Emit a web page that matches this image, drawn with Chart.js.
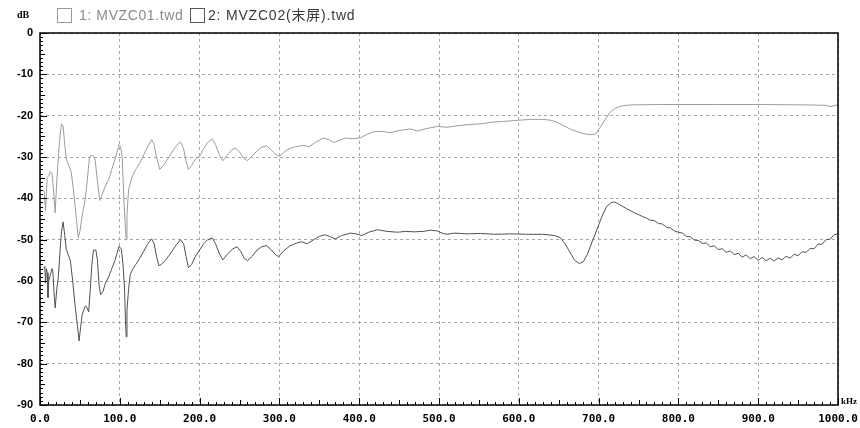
<!DOCTYPE html>
<html>
<head>
<meta charset="utf-8">
<script src="https://cdn.jsdelivr.net/npm/chart.js@4/dist/chart.umd.min.js"></script>
<style>
  html, body { margin: 0; padding: 0; background: #fff; }
  #wrap { position: relative; width: 860px; height: 428px; }
  .lbl { position: absolute; white-space: nowrap; line-height: 16px; }
  .box { position: absolute; width: 13px; height: 13px; background: #fff; }
</style>
</head>
<body>
<div id="wrap">
  <canvas id="c" width="860" height="428"></canvas>
  <div class="lbl" style="left:17px;top:9px;font:bold 10px 'Liberation Serif';line-height:12px;color:#000;">dB</div>
  <div class="box" style="left:57px;top:8px;border:1px solid #9a9a9a;"></div>
  <div class="lbl" style="left:79px;top:7px;font:14px 'Liberation Sans';line-height:16px;letter-spacing:0.6px;color:#8a8a8a;">1: MVZC01.twd</div>
  <div class="box" style="left:190px;top:8px;border:1px solid #555;"></div>
  <div class="lbl" style="left:208px;top:7px;font:14px 'Liberation Sans','Noto Sans CJK SC';line-height:16px;letter-spacing:0.8px;color:#3a3a3a;">2: MVZC02(末屏).twd</div>
  <div class="lbl" style="left:841px;top:396px;font:bold 9px 'Liberation Serif';line-height:10px;color:#000;">kHz</div>
</div>
<script>
// series 1: MVZC01.twd (light trace)
const freq1 = [5,7,9,11,13,15,17,19,21,23,25,27,29,31,33,36,39,42,45,48,50,53,56,58,60,62,64,67,69,72,75,78,82,86,90,94,97,99,101,103,105,107,108,109,111,115,120,125,130,135,140,143,146,150,155,160,165,170,176,180,183,186,190,195,201,205,210,216,220,225,229,235,240,245,250,255,260,266,272,278,284,290,295,300,305,312,320,330,337,345,355,362,368,375,383,392,402,410,418,428,439,450,464,473,485,498,510,525,540,552,565,580,600,615,630,640,648,656,665,675,685,693,697,702,708,714,720,728,740,780,850,900,960,985,990,995,1000];
const db1 = [-38,-43,-35,-34.5,-33.5,-34,-38,-43.5,-36,-30,-25,-22,-22.5,-27,-30.5,-32,-33.5,-38,-44,-49.5,-48,-44,-41,-38,-34,-30,-29.5,-29.8,-30.5,-36,-40.5,-39,-37,-35.5,-33,-30.5,-28.5,-27,-27.5,-30,-40,-47,-50,-44,-38,-35,-33,-31.5,-29.5,-27.5,-25.8,-27,-30,-33,-32,-30.5,-29,-27.5,-26.3,-28,-31,-33,-32,-30.5,-29.6,-28,-26.5,-25.6,-27,-29.5,-30.9,-29.5,-28.3,-27.8,-28.8,-30.3,-30.9,-29.8,-28.5,-27.6,-27.3,-28.3,-29.3,-29.9,-29,-28,-27.5,-27.2,-27.5,-26.5,-25.4,-25.8,-26.5,-26,-25.4,-25.6,-25.3,-24.5,-23.9,-23.8,-24.1,-23.6,-23.2,-23.7,-23.1,-22.6,-22.8,-22.4,-22.1,-22,-21.6,-21.4,-21.1,-20.9,-20.9,-21.1,-21.6,-22.4,-23.3,-24,-24.5,-24.6,-24.3,-22.8,-21,-19.3,-18.3,-17.7,-17.4,-17.3,-17.3,-17.3,-17.4,-17.5,-17.8,-17.6,-17.4];

// series 2: MVZC02(末屏).twd (dark trace)
const freq2 = [5,6,7,8,9,10,11,13,15,16,18,19,21,23,25,27,29,31,33,35,38,41,44,47,49,51,53,55,57,59,61,63,65,67,70,72,74,76,79,82,86,90,94,97,99,102,104,106,107,108,109,111,113,116,120,125,130,135,140,143,146,149,152,157,163,170,176,180,183,186,190,195,200,205,210,216,220,225,229,235,241,247,252,256,260,266,272,278,284,290,295,299,305,313,322,328,335,343,350,357,364,370,378,389,396,403,412,423,435,448,458,469,480,490,498,505,510,520,535,552,570,590,610,630,645,652,658,664,670,676,681,686,692,698,704,710,716,720,726,735,745,755,760,765,770,775,780,785,790,795,800,805,810,815,820,825,830,835,840,845,850,855,860,865,870,875,880,885,890,895,900,905,910,915,920,925,930,935,940,945,950,955,960,965,970,975,980,985,990,995,1000];
const db2 = [-57,-56.5,-60.5,-57,-58,-64,-60,-58.5,-57,-57.5,-64,-66.5,-62,-59,-53,-48,-45.7,-49,-52.4,-53.5,-55,-60,-66,-71,-74.5,-71,-68,-67,-66,-66.5,-67.5,-62,-56,-52.5,-52.5,-55,-61,-63.3,-62.5,-60.5,-59,-57,-55,-53,-51.6,-52.3,-56,-62,-69,-73.5,-67,-62,-58.5,-57.2,-56,-54.5,-52.8,-51,-49.8,-51,-54,-56.3,-56,-55,-53.5,-51.5,-50,-51,-54,-56.8,-56,-54,-52.5,-51,-50,-49.6,-51,-53.5,-54.9,-53.5,-52.3,-51.7,-53,-54.5,-55.1,-54,-52.5,-51.7,-51.4,-52.5,-53.6,-54.1,-52.8,-51.5,-50.8,-50.5,-51,-50,-49.2,-48.8,-49.3,-49.8,-49,-48.4,-48.6,-49,-48.2,-47.6,-48,-48.2,-48,-48.1,-48,-47.7,-47.9,-48.5,-48.7,-48.4,-48.6,-48.5,-48.7,-48.6,-48.7,-48.7,-49,-49.5,-51,-53,-55,-55.8,-55.3,-53.5,-50.5,-47.5,-44.5,-42,-41,-40.9,-41.5,-42.5,-43.5,-44.4,-44.8,-45.3,-45.4,-46.1,-46.2,-47.0,-47.2,-47.9,-48.2,-48.4,-49.2,-49.3,-50.1,-50.2,-50.9,-50.8,-51.7,-51.5,-52.4,-52.2,-53.1,-52.7,-53.6,-53.3,-54.2,-53.7,-54.6,-54.1,-55.0,-54.3,-55.1,-54.5,-55.2,-54.4,-54.9,-54.0,-54.5,-53.5,-53.9,-52.9,-53.1,-52.1,-52.2,-51.1,-51.1,-50.0,-49.9,-48.8,-48.6];

const xMin = 0, xMax = 1000, xStep = 100;
const yMin = -90, yMax = 0, yStep = 10;

function pairs(xs, ys) {
    return xs.map(function(x, i){ return {x: x, y: ys[i]}; });
}

// frame and inward minor ticks, like the analyser print-out
const framePlugin = {
    id: 'frame',
    afterDraw: function(chart) {
        let ctx = chart.ctx;
        let a = chart.chartArea;
        let sx = chart.scales.x, sy = chart.scales.y;
        ctx.save();
        ctx.strokeStyle = '#000';
        ctx.lineWidth = 1;
        ctx.beginPath();
        for (let v = yMin; v <= yMax; v += 1) {
            let y = Math.round(sy.getPixelForValue(v)) + 0.5;
            let len = (v % 10 === 0) ? 7 : (v % 5 === 0 ? 5 : 3);
            ctx.moveTo(a.left, y);
            ctx.lineTo(a.left + len, y);
        }
        for (let f = xMin; f <= xMax; f += 10) {
            let x = Math.round(sx.getPixelForValue(f)) + 0.5;
            let len = (f % 100 === 0) ? 7 : (f % 50 === 0 ? 5 : 3);
            ctx.moveTo(x, a.bottom);
            ctx.lineTo(x, a.bottom - len);
        }
        ctx.stroke();
        ctx.lineWidth = 1.5;
        ctx.strokeRect(a.left, a.top, a.right - a.left, a.bottom - a.top);
        ctx.restore();
    }
};

new Chart(document.getElementById('c'), {
    type: 'line',
    data: {
        datasets: [
            {
                label: '1: MVZC01.twd',
                data: pairs(freq1, db1),
                borderColor: '#9c9c9c',
                borderWidth: 1,
                pointRadius: 0,
                tension: 0,
                fill: false
            },
            {
                label: '2: MVZC02(末屏).twd',
                data: pairs(freq2, db2),
                borderColor: '#505050',
                borderWidth: 1,
                pointRadius: 0,
                tension: 0,
                fill: false
            }
        ]
    },
    options: {
        responsive: false,
        animation: false,
        devicePixelRatio: 1,
        layout: {padding: {top: 33, right: 22, left: 0, bottom: 0}},
        plugins: {legend: {display: false}, tooltip: {enabled: false}},
        scales: {
            x: {
                type: 'linear',
                min: xMin, max: xMax,
                afterFit: function(s){
                    s.height = 23;
                    s.paddingLeft = 0;
                    s.paddingRight = 0;
                },
                grid: {color: '#a8a8a8', drawTicks: false},
                border: {display: false, dash: [3, 3]},
                ticks: {
                    stepSize: xStep,
                    padding: 8,
                    color: '#000',
                    maxRotation: 0,
                    autoSkip: false,
                    font: {family: 'DejaVu Sans Mono', size: 11, weight: 'bold'},
                    callback: function(v){ return v.toFixed(1); }
                }
            },
            y: {
                min: yMin, max: yMax,
                afterFit: function(s){ s.width = 40; },
                grid: {color: '#a8a8a8', drawTicks: false},
                border: {display: false, dash: [3, 3]},
                ticks: {
                    stepSize: yStep,
                    padding: 7,
                    color: '#000',
                    font: {family: 'Liberation Sans', size: 11, weight: 'bold'}
                }
            }
        }
    },
    plugins: [framePlugin]
});
</script>
</body>
</html>
